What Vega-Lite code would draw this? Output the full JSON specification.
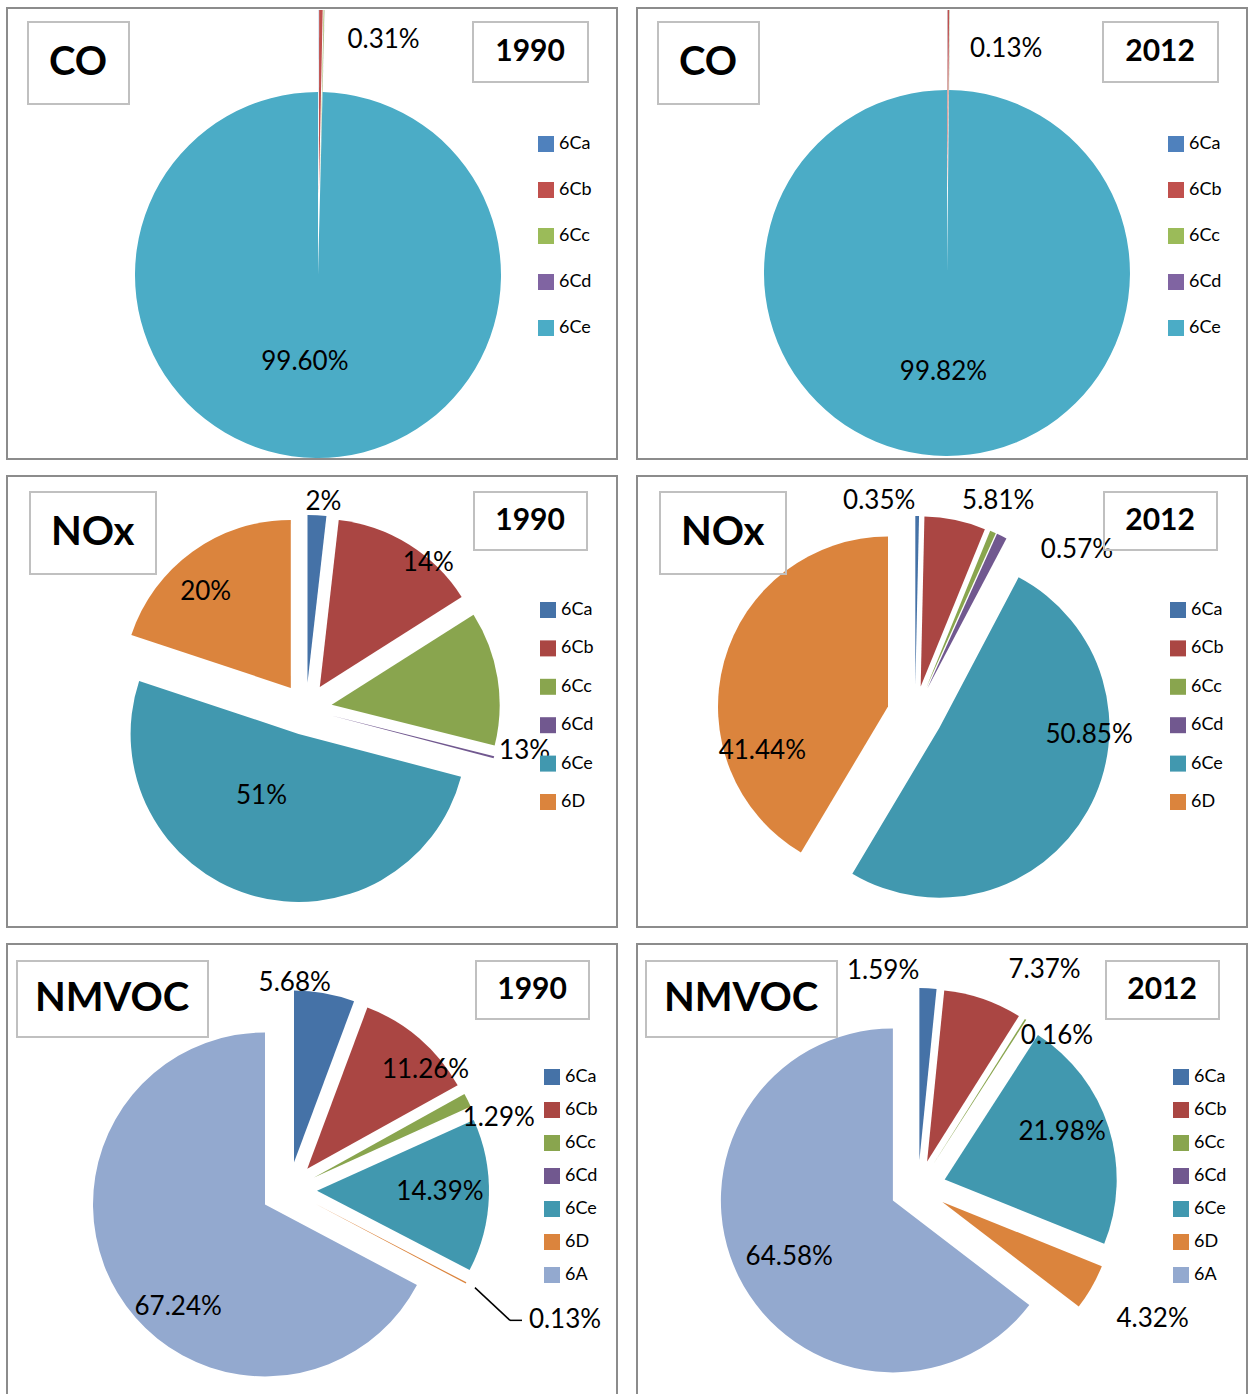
{
  "$schema": "https://vega.github.io/schema/vega-lite/v6.json",
  "padding": {"left": 6, "top": 7, "right": 0, "bottom": 0},
  "background": "white",
  "config": {"view": {"stroke": "#8c8c8c", "strokeWidth": 2}, "font": "Lato", "legend": {"strokeWidth": 2}},
  "datasets": {
    "co1990": [
      {"cat": "6Ca", "v": 0.02, "label": "", "i": 0, "pollutant": "CO", "year": "1990"},
      {"cat": "6Cb", "v": 0.31, "label": "0.31%", "i": 1, "pollutant": "CO", "year": "1990"},
      {"cat": "6Cc", "v": 0.06, "label": "", "i": 2, "pollutant": "CO", "year": "1990"},
      {"cat": "6Cd", "v": 0.01, "label": "", "i": 3, "pollutant": "CO", "year": "1990"},
      {"cat": "6Ce", "v": 99.60, "label": "99.60%", "i": 4, "pollutant": "CO", "year": "1990"}
    ],
    "co2012": [
      {"cat": "6Ca", "v": 0.02, "label": "", "i": 0, "pollutant": "CO", "year": "2012"},
      {"cat": "6Cb", "v": 0.13, "label": "0.13%", "i": 1, "pollutant": "CO", "year": "2012"},
      {"cat": "6Cc", "v": 0.02, "label": "", "i": 2, "pollutant": "CO", "year": "2012"},
      {"cat": "6Cd", "v": 0.01, "label": "", "i": 3, "pollutant": "CO", "year": "2012"},
      {"cat": "6Ce", "v": 99.82, "label": "99.82%", "i": 4, "pollutant": "CO", "year": "2012"}
    ],
    "nox1990": [
      {"cat": "6Ca", "v": 1.8, "label": "2%", "i": 0, "pollutant": "NOx", "year": "1990"},
      {"cat": "6Cb", "v": 14.2, "label": "14%", "i": 1, "pollutant": "NOx", "year": "1990"},
      {"cat": "6Cc", "v": 12.9, "label": "13%", "i": 2, "pollutant": "NOx", "year": "1990"},
      {"cat": "6Cd", "v": 0.2, "label": "", "i": 3, "pollutant": "NOx", "year": "1990"},
      {"cat": "6Ce", "v": 51.0, "label": "51%", "i": 4, "pollutant": "NOx", "year": "1990"},
      {"cat": "6D", "v": 19.9, "label": "20%", "i": 5, "pollutant": "NOx", "year": "1990"}
    ],
    "nox2012": [
      {"cat": "6Ca", "v": 0.35, "label": "0.35%", "i": 0, "pollutant": "NOx", "year": "2012"},
      {"cat": "6Cb", "v": 5.81, "label": "5.81%", "i": 1, "pollutant": "NOx", "year": "2012"},
      {"cat": "6Cc", "v": 0.57, "label": "0.57%", "i": 2, "pollutant": "NOx", "year": "2012"},
      {"cat": "6Cd", "v": 0.98, "label": "", "i": 3, "pollutant": "NOx", "year": "2012"},
      {"cat": "6Ce", "v": 50.85, "label": "50.85%", "i": 4, "pollutant": "NOx", "year": "2012"},
      {"cat": "6D", "v": 41.44, "label": "41.44%", "i": 5, "pollutant": "NOx", "year": "2012"}
    ],
    "nmvoc1990": [
      {"cat": "6Ca", "v": 5.68, "label": "5.68%", "i": 0, "pollutant": "NMVOC", "year": "1990"},
      {"cat": "6Cb", "v": 11.26, "label": "11.26%", "i": 1, "pollutant": "NMVOC", "year": "1990"},
      {"cat": "6Cc", "v": 1.29, "label": "1.29%", "i": 2, "pollutant": "NMVOC", "year": "1990"},
      {"cat": "6Cd", "v": 0.01, "label": "", "i": 3, "pollutant": "NMVOC", "year": "1990"},
      {"cat": "6Ce", "v": 14.39, "label": "14.39%", "i": 4, "pollutant": "NMVOC", "year": "1990"},
      {"cat": "6D", "v": 0.13, "label": "0.13%", "i": 5, "pollutant": "NMVOC", "year": "1990"},
      {"cat": "6A", "v": 67.24, "label": "67.24%", "i": 6, "pollutant": "NMVOC", "year": "1990"}
    ],
    "nmvoc2012": [
      {"cat": "6Ca", "v": 1.59, "label": "1.59%", "i": 0, "pollutant": "NMVOC", "year": "2012"},
      {"cat": "6Cb", "v": 7.37, "label": "7.37%", "i": 1, "pollutant": "NMVOC", "year": "2012"},
      {"cat": "6Cc", "v": 0.16, "label": "0.16%", "i": 2, "pollutant": "NMVOC", "year": "2012"},
      {"cat": "6Cd", "v": 0.0, "label": "", "i": 3, "pollutant": "NMVOC", "year": "2012"},
      {"cat": "6Ce", "v": 21.98, "label": "21.98%", "i": 4, "pollutant": "NMVOC", "year": "2012"},
      {"cat": "6D", "v": 4.32, "label": "4.32%", "i": 5, "pollutant": "NMVOC", "year": "2012"},
      {"cat": "6A", "v": 64.58, "label": "64.58%", "i": 6, "pollutant": "NMVOC", "year": "2012"}
    ]
  },
  "columns": 2,
  "spacing": {"row": 15, "column": 18},
  "resolve": {
    "scale": {"color": "independent", "opacity": "independent", "strokeWidth": "independent", "theta": "independent"},
    "legend": {"color": "independent", "opacity": "independent", "strokeWidth": "independent"}
  },
  "concat": [
    {
      "width": 610, "height": 451,
      "view": {"stroke": "#8c8c8c", "strokeWidth": 2},
      "data": {"name": "co1990"},
      "layer": [
        {
          "mark": {"type": "arc", "outerRadius": 183,
            "x": {"expr": "311+((datum.v_end-datum.v_start)<0.5?82:0)*sin(PI*(datum.v_start+datum.v_end))"},
            "y": {"expr": "267-((datum.v_end-datum.v_start)<0.5?82:0)*cos(PI*(datum.v_start+datum.v_end))"}},
          "encoding": {
            "theta": {"field": "v", "type": "quantitative", "stack": "normalize"},
            "order": {"field": "i", "type": "quantitative"},
            "color": {"field": "cat", "type": "nominal",
              "scale": {"domain": ["6Ca", "6Cb", "6Cc", "6Cd", "6Ce"], "range": ["#4F81BD", "#C0504D", "#9BBB59", "#8064A2", "#4BACC6"]},
              "legend": {"orient": "none", "legendX": 530, "legendY": 127, "title": null, "symbolType": "square", "symbolSize": 256, "symbolStrokeWidth": 0, "labelFont": "Lato", "labelFontSize": 18, "labelColor": "#000", "labelOffset": 4, "rowPadding": 28, "padding": 0}},
            "opacity": {"field": "pollutant", "type": "nominal", "scale": {"range": [1, 1]},
              "legend": {"orient": "none", "legendX": 21, "legendY": 14, "title": "CO", "titleFont": "Lato", "titleFontSize": 40, "titleFontWeight": "bold", "titleColor": "#000", "titlePadding": 0, "values": [], "strokeColor": "#c0c0c0", "padding": 21}},
            "strokeWidth": {"field": "year", "type": "nominal", "scale": {"range": [0, 0]},
              "legend": {"orient": "none", "legendX": 466, "legendY": 14, "title": "\u200b\u00a01990\u00a0\u200b", "titleFont": "Lato", "titleFontSize": 30, "titleFontWeight": "bold", "titleColor": "#000", "titlePadding": 0, "values": [], "strokeColor": "#c0c0c0", "padding": 15}}
          }
        },
        {
          "mark": {"type": "text", "font": "Lato", "fontSize": 26, "color": "#000", "x": 311, "y": 267,
            "radius": {"expr": "(datum.v_end-datum.v_start)>0.5?90:235"},
            "dx": {"expr": "(datum.v_end-datum.v_start)>0.5?-12:63"},
            "dy": {"expr": "(datum.v_end-datum.v_start)>0.5?-3:0"}},
          "encoding": {
            "theta": {"field": "v", "type": "quantitative", "stack": "normalize"},
            "order": {"field": "i", "type": "quantitative"},
            "detail": {"field": "cat"},
            "text": {"field": "label"}
          }
        }
      ]
    },
    {
      "width": 610, "height": 451,
      "view": {"stroke": "#8c8c8c", "strokeWidth": 2},
      "data": {"name": "co2012"},
      "layer": [
        {
          "mark": {"type": "arc", "outerRadius": 183,
            "x": {"expr": "310+((datum.v_end-datum.v_start)<0.5?80:0)*sin(PI*(datum.v_start+datum.v_end))"},
            "y": {"expr": "265-((datum.v_end-datum.v_start)<0.5?80:0)*cos(PI*(datum.v_start+datum.v_end))"}},
          "encoding": {
            "theta": {"field": "v", "type": "quantitative", "stack": "normalize"},
            "order": {"field": "i", "type": "quantitative"},
            "color": {"field": "cat", "type": "nominal",
              "scale": {"domain": ["6Ca", "6Cb", "6Cc", "6Cd", "6Ce"], "range": ["#4F81BD", "#C0504D", "#9BBB59", "#8064A2", "#4BACC6"]},
              "legend": {"orient": "none", "legendX": 530, "legendY": 127, "title": null, "symbolType": "square", "symbolSize": 256, "symbolStrokeWidth": 0, "labelFont": "Lato", "labelFontSize": 18, "labelColor": "#000", "labelOffset": 4, "rowPadding": 28, "padding": 0}},
            "opacity": {"field": "pollutant", "type": "nominal", "scale": {"range": [1, 1]},
              "legend": {"orient": "none", "legendX": 21, "legendY": 14, "title": "CO", "titleFont": "Lato", "titleFontSize": 40, "titleFontWeight": "bold", "titleColor": "#000", "titlePadding": 0, "values": [], "strokeColor": "#c0c0c0", "padding": 21}},
            "strokeWidth": {"field": "year", "type": "nominal", "scale": {"range": [0, 0]},
              "legend": {"orient": "none", "legendX": 466, "legendY": 14, "title": "\u200b\u00a02012\u00a0\u200b", "titleFont": "Lato", "titleFontSize": 30, "titleFontWeight": "bold", "titleColor": "#000", "titlePadding": 0, "values": [], "strokeColor": "#c0c0c0", "padding": 15}}
          }
        },
        {
          "mark": {"type": "text", "font": "Lato", "fontSize": 26, "color": "#000", "x": 310, "y": 265,
            "radius": {"expr": "(datum.v_end-datum.v_start)>0.5?99:224"},
            "dx": {"expr": "(datum.v_end-datum.v_start)>0.5?-3:58"}},
          "encoding": {
            "theta": {"field": "v", "type": "quantitative", "stack": "normalize"},
            "order": {"field": "i", "type": "quantitative"},
            "detail": {"field": "cat"},
            "text": {"field": "label"}
          }
        }
      ]
    },
    {
      "width": 610, "height": 451,
      "view": {"stroke": "#8c8c8c", "strokeWidth": 2},
      "data": {"name": "nox1990"},
      "layer": [
        {
          "mark": {"type": "arc", "outerRadius": 168,
            "x": {"expr": "299+26*sin(PI*(datum.v_start+datum.v_end))"},
            "y": {"expr": "233-26*cos(PI*(datum.v_start+datum.v_end))"}},
          "encoding": {
            "theta": {"field": "v", "type": "quantitative", "stack": "normalize"},
            "order": {"field": "i", "type": "quantitative"},
            "color": {"field": "cat", "type": "nominal",
              "scale": {"domain": ["6Ca", "6Cb", "6Cc", "6Cd", "6Ce", "6D"], "range": ["#4572A7", "#AA4643", "#89A54E", "#71588F", "#4198AF", "#DB843D"]},
              "legend": {"orient": "none", "legendX": 532, "legendY": 125, "title": null, "symbolType": "square", "symbolSize": 256, "symbolStrokeWidth": 0, "labelFont": "Lato", "labelFontSize": 18, "labelColor": "#000", "labelOffset": 4, "rowPadding": 20.4, "padding": 0}},
            "opacity": {"field": "pollutant", "type": "nominal", "scale": {"range": [1, 1]},
              "legend": {"orient": "none", "legendX": 23, "legendY": 16, "title": "NOx", "titleFont": "Lato", "titleFontSize": 40, "titleFontWeight": "bold", "titleColor": "#000", "titlePadding": 0, "values": [], "strokeColor": "#c0c0c0", "padding": 21}},
            "strokeWidth": {"field": "year", "type": "nominal", "scale": {"range": [0, 0]},
              "legend": {"orient": "none", "legendX": 467, "legendY": 16, "title": "\u200b\u00a01990\u00a0\u200b", "titleFont": "Lato", "titleFontSize": 30, "titleFontWeight": "bold", "titleColor": "#000", "titlePadding": 0, "values": [], "strokeColor": "#c0c0c0", "padding": 14}}
          }
        },
        {
          "mark": {"type": "text", "font": "Lato", "fontSize": 26, "color": "#000",
            "x": {"expr": "299+26*sin(PI*(datum.v_start+datum.v_end))"},
            "y": {"expr": "233-26*cos(PI*(datum.v_start+datum.v_end))"},
            "radius": {"expr": "(datum.v_end-datum.v_start)<0.05?175:(datum.v_end-datum.v_start)<0.19?165:(datum.v_end-datum.v_start)<0.3?130:60"},
            "dx": {"expr": "[6,21,30,0,-20,-9][datum.i]"},
            "dy": {"expr": "[-6,16,72,0,5,9][datum.i]"}},
          "encoding": {
            "theta": {"field": "v", "type": "quantitative", "stack": "normalize"},
            "order": {"field": "i", "type": "quantitative"},
            "detail": {"field": "cat"},
            "text": {"field": "label"}
          }
        }
      ]
    },
    {
      "width": 610, "height": 451,
      "view": {"stroke": "#8c8c8c", "strokeWidth": 2},
      "data": {"name": "nox2012"},
      "layer": [
        {
          "mark": {"type": "arc", "outerRadius": 170,
            "x": {"expr": "278+28*sin(PI*(datum.v_start+datum.v_end))"},
            "y": {"expr": "238-28*cos(PI*(datum.v_start+datum.v_end))"}},
          "encoding": {
            "theta": {"field": "v", "type": "quantitative", "stack": "normalize"},
            "order": {"field": "i", "type": "quantitative"},
            "color": {"field": "cat", "type": "nominal",
              "scale": {"domain": ["6Ca", "6Cb", "6Cc", "6Cd", "6Ce", "6D"], "range": ["#4572A7", "#AA4643", "#89A54E", "#71588F", "#4198AF", "#DB843D"]},
              "legend": {"orient": "none", "legendX": 532, "legendY": 125, "title": null, "symbolType": "square", "symbolSize": 256, "symbolStrokeWidth": 0, "labelFont": "Lato", "labelFontSize": 18, "labelColor": "#000", "labelOffset": 4, "rowPadding": 20.4, "padding": 0}},
            "opacity": {"field": "pollutant", "type": "nominal", "scale": {"range": [1, 1]},
              "legend": {"orient": "none", "legendX": 23, "legendY": 16, "title": "NOx", "titleFont": "Lato", "titleFontSize": 40, "titleFontWeight": "bold", "titleColor": "#000", "titlePadding": 0, "values": [], "strokeColor": "#c0c0c0", "padding": 21}},
            "strokeWidth": {"field": "year", "type": "nominal", "scale": {"range": [0, 0]},
              "legend": {"orient": "none", "legendX": 467, "legendY": 16, "title": "\u200b\u00a02012\u00a0\u200b", "titleFont": "Lato", "titleFontSize": 30, "titleFontWeight": "bold", "titleColor": "#000", "titlePadding": 0, "values": [], "strokeColor": "#c0c0c0", "padding": 14}}
          }
        },
        {
          "mark": {"type": "text", "font": "Lato", "fontSize": 26, "color": "#000",
            "x": {"expr": "278+28*sin(PI*(datum.v_start+datum.v_end))"},
            "y": {"expr": "238-28*cos(PI*(datum.v_start+datum.v_end))"},
            "radius": {"expr": "(datum.v_end-datum.v_start)<0.1?175:120"},
            "dx": {"expr": "[-38,42,82,0,45,-10][datum.i]"},
            "dy": {"expr": "[-10,-14,23,0,-51,76][datum.i]"}},
          "encoding": {
            "theta": {"field": "v", "type": "quantitative", "stack": "normalize"},
            "order": {"field": "i", "type": "quantitative"},
            "detail": {"field": "cat"},
            "text": {"field": "label"}
          }
        }
      ]
    },
    {
      "width": 610, "height": 451,
      "view": {"stroke": "#8c8c8c", "strokeWidth": 2},
      "data": {"name": "nmvoc1990"},
      "layer": [
        {
          "mark": {"type": "arc", "outerRadius": 172,
            "x": {"expr": "282+28*sin(PI*(datum.v_start+datum.v_end))"},
            "y": {"expr": "246-28*cos(PI*(datum.v_start+datum.v_end))"}},
          "encoding": {
            "theta": {"field": "v", "type": "quantitative", "stack": "normalize"},
            "order": {"field": "i", "type": "quantitative"},
            "color": {"field": "cat", "type": "nominal",
              "scale": {"domain": ["6Ca", "6Cb", "6Cc", "6Cd", "6Ce", "6D", "6A"], "range": ["#4572A7", "#AA4643", "#89A54E", "#71588F", "#4198AF", "#DB843D", "#93A9CF"]},
              "legend": {"orient": "none", "legendX": 536, "legendY": 124, "title": null, "symbolType": "square", "symbolSize": 256, "symbolStrokeWidth": 0, "labelFont": "Lato", "labelFontSize": 18, "labelColor": "#000", "labelOffset": 4, "rowPadding": 15, "padding": 0}},
            "opacity": {"field": "pollutant", "type": "nominal", "scale": {"range": [1, 1]},
              "legend": {"orient": "none", "legendX": 10, "legendY": 17, "title": "NMVOC", "titleFont": "Lato", "titleFontSize": 40, "titleFontWeight": "bold", "titleColor": "#000", "titlePadding": 0, "values": [], "strokeColor": "#c0c0c0", "padding": 18}},
            "strokeWidth": {"field": "year", "type": "nominal", "scale": {"range": [0, 0]},
              "legend": {"orient": "none", "legendX": 469, "legendY": 17, "title": "\u200b\u00a01990\u00a0\u200b", "titleFont": "Lato", "titleFontSize": 30, "titleFontWeight": "bold", "titleColor": "#000", "titlePadding": 0, "values": [], "strokeColor": "#c0c0c0", "padding": 14}}
          }
        },
        {
          "mark": {"type": "text", "font": "Lato", "fontSize": 26, "color": "#000",
            "x": {"expr": "282+28*sin(PI*(datum.v_start+datum.v_end))"},
            "y": {"expr": "246-28*cos(PI*(datum.v_start+datum.v_end))"},
            "radius": {"expr": "(datum.v_end-datum.v_start)<0.1?190:120"},
            "dx": {"expr": "[-33,40,15,0,3,83,16][datum.i]"},
            "dy": {"expr": "[8,-8,26,0,-2,29,41][datum.i]"}},
          "encoding": {
            "theta": {"field": "v", "type": "quantitative", "stack": "normalize"},
            "order": {"field": "i", "type": "quantitative"},
            "detail": {"field": "cat"},
            "text": {"field": "label"}
          }
        },
        {
          "transform": [
            {"stack": "v", "groupby": [], "sort": [{"field": "i", "order": "ascending"}], "as": ["s0", "s1"], "offset": "normalize"},
            {"filter": "datum.cat == '6D'"}
          ],
          "mark": {"type": "rule", "color": "#000", "strokeWidth": 1.5},
          "encoding": {
            "x": {"value": {"expr": "282+210*sin(PI*(datum.s0+datum.s1))"}},
            "y": {"value": {"expr": "246-210*cos(PI*(datum.s0+datum.s1))"}},
            "x2": {"value": {"expr": "282+218*sin(PI*(datum.s0+datum.s1))+28"}},
            "y2": {"value": {"expr": "246-218*cos(PI*(datum.s0+datum.s1))+29"}}
          }
        },
        {
          "transform": [
            {"stack": "v", "groupby": [], "sort": [{"field": "i", "order": "ascending"}], "as": ["s0", "s1"], "offset": "normalize"},
            {"filter": "datum.cat == '6D'"}
          ],
          "mark": {"type": "rule", "color": "#000", "strokeWidth": 1.5},
          "encoding": {
            "x": {"value": {"expr": "282+218*sin(PI*(datum.s0+datum.s1))+28"}},
            "y": {"value": {"expr": "246-218*cos(PI*(datum.s0+datum.s1))+29"}},
            "x2": {"value": {"expr": "282+218*sin(PI*(datum.s0+datum.s1))+40"}},
            "y2": {"value": {"expr": "246-218*cos(PI*(datum.s0+datum.s1))+29"}}
          }
        }
      ]
    },
    {
      "width": 610, "height": 451,
      "view": {"stroke": "#8c8c8c", "strokeWidth": 2},
      "data": {"name": "nmvoc2012"},
      "layer": [
        {
          "mark": {"type": "arc", "outerRadius": 172,
            "x": {"expr": "281+28*sin(PI*(datum.v_start+datum.v_end))"},
            "y": {"expr": "244-28*cos(PI*(datum.v_start+datum.v_end))"}},
          "encoding": {
            "theta": {"field": "v", "type": "quantitative", "stack": "normalize"},
            "order": {"field": "i", "type": "quantitative"},
            "color": {"field": "cat", "type": "nominal",
              "scale": {"domain": ["6Ca", "6Cb", "6Cc", "6Cd", "6Ce", "6D", "6A"], "range": ["#4572A7", "#AA4643", "#89A54E", "#71588F", "#4198AF", "#DB843D", "#93A9CF"]},
              "legend": {"orient": "none", "legendX": 535, "legendY": 124, "title": null, "symbolType": "square", "symbolSize": 256, "symbolStrokeWidth": 0, "labelFont": "Lato", "labelFontSize": 18, "labelColor": "#000", "labelOffset": 4, "rowPadding": 15, "padding": 0}},
            "opacity": {"field": "pollutant", "type": "nominal", "scale": {"range": [1, 1]},
              "legend": {"orient": "none", "legendX": 9, "legendY": 17, "title": "NMVOC", "titleFont": "Lato", "titleFontSize": 40, "titleFontWeight": "bold", "titleColor": "#000", "titlePadding": 0, "values": [], "strokeColor": "#c0c0c0", "padding": 18}},
            "strokeWidth": {"field": "year", "type": "nominal", "scale": {"range": [0, 0]},
              "legend": {"orient": "none", "legendX": 469, "legendY": 17, "title": "\u200b\u00a02012\u00a0\u200b", "titleFont": "Lato", "titleFontSize": 30, "titleFontWeight": "bold", "titleColor": "#000", "titlePadding": 0, "values": [], "strokeColor": "#c0c0c0", "padding": 14}}
          }
        },
        {
          "mark": {"type": "text", "font": "Lato", "fontSize": 26, "color": "#000",
            "x": {"expr": "281+28*sin(PI*(datum.v_start+datum.v_end))"},
            "y": {"expr": "244-28*cos(PI*(datum.v_start+datum.v_end))"},
            "radius": {"expr": "(datum.v_end-datum.v_start)<0.1?195:120"},
            "dx": {"expr": "[-46,54,19,0,3,41,4][datum.i]"},
            "dy": {"expr": "[6,-7,36,0,-11,20,4][datum.i]"}},
          "encoding": {
            "theta": {"field": "v", "type": "quantitative", "stack": "normalize"},
            "order": {"field": "i", "type": "quantitative"},
            "detail": {"field": "cat"},
            "text": {"field": "label"}
          }
        }
      ]
    }
  ]
}
